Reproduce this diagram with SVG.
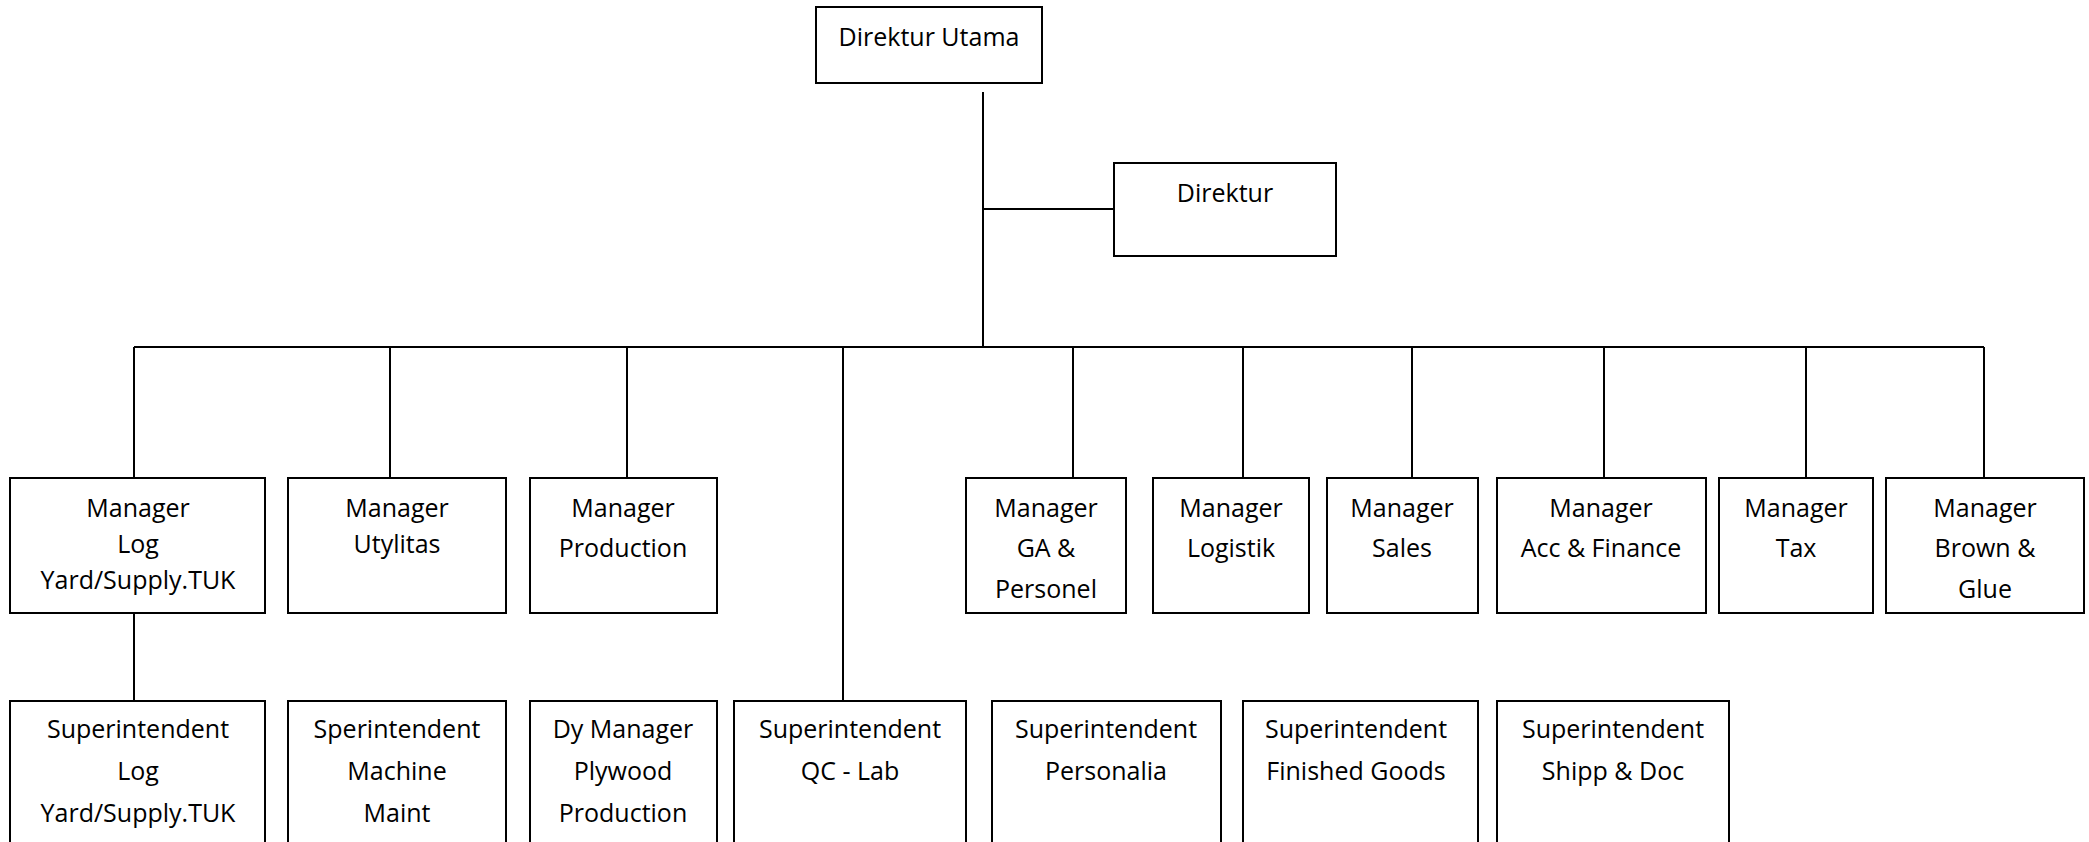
<svg xmlns="http://www.w3.org/2000/svg" width="2089" height="842" viewBox="0 0 2089 842">
<style>
.box{fill:#fff;stroke:#000;stroke-width:2}
.lbl{font-family:"Open Sans","Liberation Sans",sans-serif;font-size:25px;fill:#000;text-anchor:middle}
.conn{fill:none;stroke:#000;stroke-width:2}
</style>
<rect width="2089" height="842" fill="#fff"/>
<g id="connectors" class="conn">
<path d="M983 92V347"/>
<path d="M983 209H1114"/>
<path d="M134 347H1984"/>
<path d="M134 347V478M390 347V478M627 347V478M843 347V701M1073 347V478M1243 347V478M1412 347V478M1604 347V478M1806 347V478M1984 347V478"/>
<path d="M134 613V701"/>
</g>
<g id="direktur-utama"><rect class="box" x="816" y="7" width="226" height="76"/><text class="lbl" x="929" y="46">Direktur Utama</text></g>
<g id="direktur"><rect class="box" x="1114" y="163" width="222" height="93"/><text class="lbl" x="1225" y="202">Direktur</text></g>

<g id="mgr-log"><rect class="box" x="10" y="478" width="255" height="135"/><text class="lbl" x="138" y="517">Manager</text><text class="lbl" x="138" y="553">Log</text><text class="lbl" x="138" y="589">Yard/Supply.TUK</text></g>
<g id="mgr-utylitas"><rect class="box" x="288" y="478" width="218" height="135"/><text class="lbl" x="397" y="517">Manager</text><text class="lbl" x="397" y="553">Utylitas</text></g>
<g id="mgr-production"><rect class="box" x="530" y="478" width="187" height="135"/><text class="lbl" x="623" y="517">Manager</text><text class="lbl" x="623" y="557">Production</text></g>
<g id="mgr-ga"><rect class="box" x="966" y="478" width="160" height="135"/><text class="lbl" x="1046" y="517">Manager</text><text class="lbl" x="1046" y="557">GA &amp;</text><text class="lbl" x="1046" y="598">Personel</text></g>
<g id="mgr-logistik"><rect class="box" x="1153" y="478" width="156" height="135"/><text class="lbl" x="1231" y="517">Manager</text><text class="lbl" x="1231" y="557">Logistik</text></g>
<g id="mgr-sales"><rect class="box" x="1327" y="478" width="151" height="135"/><text class="lbl" x="1402" y="517">Manager</text><text class="lbl" x="1402" y="557">Sales</text></g>
<g id="mgr-acc"><rect class="box" x="1497" y="478" width="209" height="135"/><text class="lbl" x="1601" y="517">Manager</text><text class="lbl" x="1601" y="557">Acc &amp; Finance</text></g>
<g id="mgr-tax"><rect class="box" x="1719" y="478" width="154" height="135"/><text class="lbl" x="1796" y="517">Manager</text><text class="lbl" x="1796" y="557">Tax</text></g>
<g id="mgr-brown"><rect class="box" x="1886" y="478" width="198" height="135"/><text class="lbl" x="1985" y="517">Manager</text><text class="lbl" x="1985" y="557">Brown &amp;</text><text class="lbl" x="1985" y="598">Glue</text></g>

<g id="sup-log"><rect class="box" x="10" y="701" width="255" height="150"/><text class="lbl" x="138" y="738">Superintendent</text><text class="lbl" x="138" y="780">Log</text><text class="lbl" x="138" y="822">Yard/Supply.TUK</text></g>
<g id="sup-machine"><rect class="box" x="288" y="701" width="218" height="150"/><text class="lbl" x="397" y="738">Sperintendent</text><text class="lbl" x="397" y="780">Machine</text><text class="lbl" x="397" y="822">Maint</text></g>
<g id="dy-manager"><rect class="box" x="530" y="701" width="187" height="150"/><text class="lbl" x="623" y="738">Dy Manager</text><text class="lbl" x="623" y="780">Plywood</text><text class="lbl" x="623" y="822">Production</text></g>
<g id="sup-qc"><rect class="box" x="734" y="701" width="232" height="150"/><text class="lbl" x="850" y="738">Superintendent</text><text class="lbl" x="850" y="780">QC - Lab</text></g>
<g id="sup-personalia"><rect class="box" x="992" y="701" width="229" height="150"/><text class="lbl" x="1106" y="738">Superintendent</text><text class="lbl" x="1106" y="780">Personalia</text></g>
<g id="sup-finished"><rect class="box" x="1243" y="701" width="235" height="150"/><text class="lbl" x="1356" y="738">Superintendent</text><text class="lbl" x="1356" y="780">Finished Goods</text></g>
<g id="sup-shipp"><rect class="box" x="1497" y="701" width="232" height="150"/><text class="lbl" x="1613" y="738">Superintendent</text><text class="lbl" x="1613" y="780">Shipp &amp; Doc</text></g>
</svg>
